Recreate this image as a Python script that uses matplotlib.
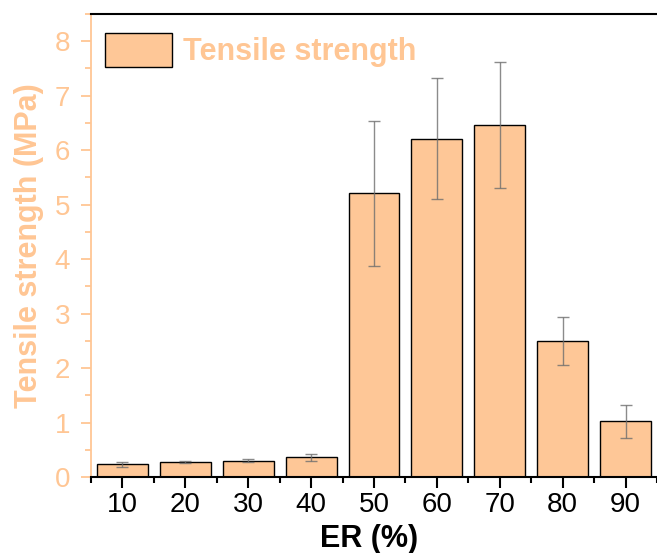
import numpy as np
import matplotlib
matplotlib.use("Agg")
import matplotlib.pyplot as plt
from matplotlib.ticker import MultipleLocator

plt.rcParams['font.family'] = ['Liberation Sans', 'DejaVu Sans']

# datos
er = [10, 20, 30, 40, 50, 60, 70, 80, 90]
tensile = [0.23, 0.27, 0.30, 0.36, 5.21, 6.21, 6.46, 2.50, 1.02]
tensile_err = [0.04, 0.02, 0.025, 0.06, 1.33, 1.11, 1.16, 0.44, 0.31]

peach = '#FFC694'
bar_color = '#FEC797'

fig = plt.figure(figsize=(6.57, 5.53), dpi=100)
ax = fig.add_axes([91/657, 1 - 477/553, 1 - 91/657, (477 - 14)/553])

ax.bar(er, tensile, width=8.1, color=bar_color, edgecolor='black', linewidth=1.0,
       label='Tensile strength', zorder=2)
ax.errorbar(er, tensile, yerr=tensile_err, fmt='none', ecolor='#6e6e6e', alpha=0.8,
            elinewidth=1.0, capsize=4, capthick=1.0, zorder=3)

ax.set_xlim(5, 5 + (657 - 91)/6.4)
ax.set_ylim(0, 8.5)

ax.yaxis.set_major_locator(MultipleLocator(1))
ax.yaxis.set_minor_locator(MultipleLocator(0.5))
ax.set_xticks(er)
ax.set_xticks([e + 5 for e in [0] + er], minor=True)

ax.spines['right'].set_visible(False)
ax.spines['left'].set_color(peach)
ax.spines['left'].set_linewidth(1.3)
ax.spines['top'].set_linewidth(1.5)
ax.spines['bottom'].set_linewidth(1.5)

ax.tick_params(axis='x', which='major', direction='out', length=8, width=1.5,
               labelsize=20, pad=3, colors='black')
ax.tick_params(axis='x', which='minor', direction='out', length=4, width=1.5)
ax.tick_params(axis='y', which='major', direction='out', length=7, width=1.3,
               labelsize=20, color=peach, labelcolor=peach, pad=8)
ax.tick_params(axis='y', which='minor', direction='out', length=4, width=1.3, color=peach)

ax.set_xlabel('ER (%)', fontsize=22, fontweight='bold', va='center')
ax.set_ylabel('Tensile strength (MPa)', fontsize=22, fontweight='bold', color=peach,
              va='center')
ax.xaxis.set_label_coords((369 - 91)/(657 - 91), -(539 - 477)/(477 - 14))
ax.yaxis.set_label_coords(-(91 - 29)/(657 - 91), 0.5)

leg = ax.legend(loc='upper left', bbox_to_anchor=(0.0, 1 - 5/463), frameon=False,
                prop={'size': 22, 'weight': 'bold'}, handlelength=2.2,
                handleheight=1.35, handletextpad=0.35, borderaxespad=0.05,
                borderpad=0.4)
for t in leg.get_texts():
    t.set_color(peach)

fig.savefig('out.png', dpi=100)
